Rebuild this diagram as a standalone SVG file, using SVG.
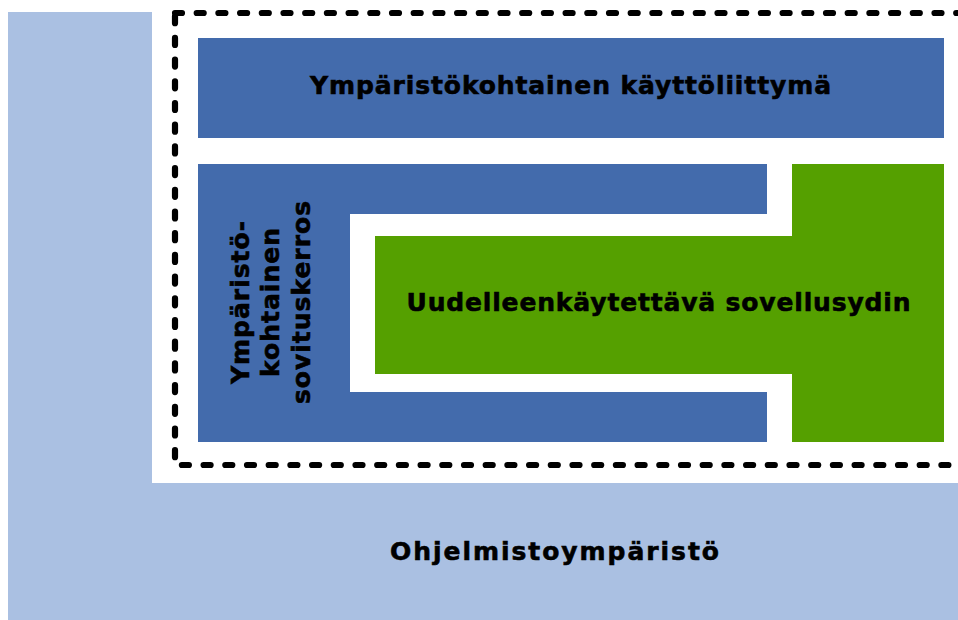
<svg xmlns="http://www.w3.org/2000/svg" width="958" height="620" viewBox="0 0 958 620">
<style>
.lbl{font-family:"DejaVu Sans","Verdana",sans-serif;font-weight:bold;font-size:25px;fill:#000;stroke:#000;stroke-width:0.6px;text-anchor:middle;letter-spacing:1px}
.blue{fill:#436BAC}
.green{fill:#55A000}
</style>
<rect width="958" height="620" fill="#fff"/>
<g id="environment">
<path d="M8 12H152V483H958V620H8Z" fill="#AAC0E2"/>
<text class="lbl" x="555" y="560" textLength="330" lengthAdjust="spacing">Ohjelmistoympäristö</text>
</g>
<g id="boundary">
<rect x="175" y="13" width="790" height="452" fill="none" stroke="#000" stroke-width="6.2" stroke-linecap="round" stroke-dasharray="7 14.7"/>
</g>
<g id="ui">
<rect class="blue" x="198" y="38" width="746" height="100"/>
<text class="lbl" x="571" y="94" textLength="522" lengthAdjust="spacing">Ympäristökohtainen käyttöliittymä</text>
</g>
<g id="adapter">
<path class="blue" d="M198 164H767V214H350V392H767V442H198Z"/>
<text class="lbl" transform="translate(270 302) rotate(-90)"><tspan x="0" y="-21">Ympäristö-</tspan><tspan x="0" y="9">kohtainen</tspan><tspan x="0" y="40">sovituskerros</tspan></text>
</g>
<g id="core">
<path class="green" d="M792 164H944V442H792V374H375V236H792Z"/>
<text class="lbl" x="659" y="311" textLength="505" lengthAdjust="spacing">Uudelleenkäytettävä sovellusydin</text>
</g>
<g id="connectors"/>
</svg>
